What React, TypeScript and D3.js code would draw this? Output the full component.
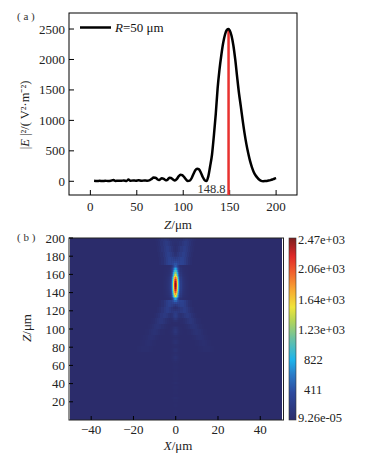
import React from 'react';
import * as d3 from 'd3';

// on-axis intensity |E|^2 along Z (um), R = 50 um
const axialZ = [4, 7, 10, 13, 16, 19, 22, 25, 27, 30, 33, 36, 39, 41, 43, 46, 49, 52, 55, 58, 61, 64, 66, 68, 70, 72, 74, 77, 79, 81, 83, 85, 87, 89, 91, 93, 95, 97, 99, 101, 103, 105, 107, 109, 111, 113, 115, 117, 119, 121, 123, 125, 127, 129, 131, 133, 135, 137, 139, 141, 143, 145, 147, 148.8, 150, 152, 154, 156, 158, 160, 162, 164, 166, 168, 170, 172, 174, 176, 178, 180, 182, 184, 186, 188, 190, 192, 194, 196, 198, 200];
const axialI = [8, 5, 8, 4, 9, 5, 10, 22, 6, 10, 8, 14, 6, 28, 8, 14, 10, 16, 8, 14, 10, 20, 40, 62, 60, 35, 22, 50, 40, 18, 25, 58, 55, 30, 15, 35, 80, 108, 100, 70, 30, 5, 10, 50, 120, 180, 205, 195, 140, 70, 20, 5, 80, 250, 440, 750, 1100, 1520, 1830, 2070, 2270, 2410, 2485, 2500, 2480, 2390, 2230, 2000, 1720, 1450, 1230, 1000, 790, 610, 460, 330, 230, 150, 95, 55, 25, 8, 2, 3, 6, 12, 20, 30, 42, 52];

const peakZ = 148.8;

const topXTicks = [0, 50, 100, 150, 200];
const topYTicks = [0, 500, 1000, 1500, 2000, 2500];

// transverse relative profile of the focal spot, |X| in um
const transX = [0, 0.5, 1, 1.5, 2, 2.5, 3, 3.5, 4, 4.5, 5, 5.5, 6];
const transRel = [1, 0.88, 0.62, 0.36, 0.18, 0.09, 0.05, 0.035, 0.025, 0.018, 0.012, 0.008, 0.004];

// faint side lobes (X-shaped fan) around the focus
const lobeZ = [200, 194, 188, 182, 176, 128, 122, 116, 110, 104, 98, 92, 86, 80];
const lobeX = [5, 4.5, 4, 3.5, 3, 3, 4, 5.5, 7, 8.5, 10, 11.5, 13, 14.5];
const lobeI = [130, 170, 200, 230, 260, 240, 200, 160, 120, 90, 70, 50, 35, 25];
const lobeDist = [0, 1, 2, 3, 4, 5];
const lobeRel = [1, 0.8, 0.5, 0.25, 0.1, 0];

const mapXTicks = [-40, -20, 0, 20, 40];
const mapYTicks = [20, 40, 60, 80, 100, 120, 140, 160, 180, 200];

const cbValues = [9.26e-5, 411, 822, 1230, 1640, 2060, 2470];
const cbLabels = ['9.26e-05', '411', '822', '1.23e+03', '1.64e+03', '2.06e+03', '2.47e+03'];

const cmapStops = [0, 0.15, 0.25, 0.33, 0.45, 0.55, 0.62, 0.72, 0.82, 0.9, 1];
const cmapColors = ['#2b2c6b', '#2d4a9e', '#2a7cc8', '#1cb4ec', '#6cc1a0', '#b8d654', '#f0e53a', '#f8a532', '#f05a2c', '#e02828', '#7b1e1e'];

const font = '"Liberation Serif", "Times New Roman", serif';

const nearest = (arr: number[], v: number) => {
  let best = 0;
  arr.forEach((a, i) => {
    if (Math.abs(a - v) < Math.abs(arr[best] - v)) best = i;
  });
  return best;
};

const App = () => {
  // panel (a)
  const a = { left: 69, right: 297, top: 13, bottom: 195 };
  const xA = d3.scaleLinear().domain([-23, 222.5]).range([a.left, a.right]);
  const yA = d3.scaleLinear().domain([-225, 2763]).range([a.bottom, a.top]);
  const line = d3
    .line<number>()
    .x((d, i) => xA(axialZ[i]))
    .y((d) => yA(d))
    .curve(d3.curveMonotoneX);

  // panel (b)
  const b = { left: 69, right: 283.5, top: 238, bottom: 420 };
  const xB = d3.scaleLinear().domain([-50.5, 51]).range([b.left, b.right]);
  const yB = d3.scaleLinear().domain([0, 200]).range([b.bottom, b.top]);
  const vmax = cbValues[cbValues.length - 1];
  const colorInterp = d3
    .scaleLinear<string>()
    .domain(cmapStops)
    .range(cmapColors)
    .interpolate(d3.interpolateRgb)
    .clamp(true);
  const color = (v: number) => colorInterp(v / vmax);

  const colsX = d3.range(-50, 50.01, 0.5);
  const cells: { x0: number; x1: number; z0: number; z1: number; v: number }[] = [];
  axialZ.forEach((z, i) => {
    const z0 = i === 0 ? 0 : (axialZ[i - 1] + z) / 2;
    const z1 = i === axialZ.length - 1 ? 200 : (axialZ[i + 1] + z) / 2;
    const li = nearest(lobeZ, z);
    const hasLobe = Math.abs(lobeZ[li] - z) <= 4;
    colsX.forEach((x) => {
      const ax = Math.abs(x);
      const t = ax <= transX[transX.length - 1] ? transRel[nearest(transX, ax)] : 0;
      let v = axialI[i] * t;
      if (hasLobe) {
        const d = Math.abs(ax - lobeX[li]);
        if (d <= lobeDist[lobeDist.length - 1]) v += lobeI[li] * lobeRel[nearest(lobeDist, d)];
      }
      cells.push({ x0: x - 0.25, x1: x + 0.25, z0, z1, v });
    });
  });

  const cb = { left: 289, right: 296, top: 238, bottom: 420 };
  const yCb = d3.scaleLinear().domain([cbValues[0], vmax]).range([cb.bottom, cb.top]);

  return (
    <svg
      width={368}
      height={455}
      style={{ position: 'absolute', left: 0, top: 0, background: '#fff' }}
      fontFamily={font}
    >
      <defs>
        <linearGradient id="cbar" x1="0" y1="1" x2="0" y2="0">
          {cmapStops.map((s, i) => (
            <stop key={i} offset={s} stopColor={cmapColors[i]} />
          ))}
        </linearGradient>
        <clipPath id="clipA">
          <rect x={a.left} y={a.top} width={a.right - a.left} height={a.bottom - a.top} />
        </clipPath>
      </defs>

      {/* ---------- (a) ---------- */}
      <text x={17} y={20} fontSize={11} fill="#333">( a )</text>
      <rect x={a.left} y={a.top} width={a.right - a.left} height={a.bottom - a.top} fill="none" stroke="#000" strokeWidth={1} />
      {topXTicks.map((t) => (
        <g key={t}>
          <line x1={xA(t)} x2={xA(t)} y1={a.bottom} y2={a.bottom - 5} stroke="#000" />
          <text x={xA(t)} y={211} fontSize={13} textAnchor="middle" fill="#222">{t}</text>
        </g>
      ))}
      {topYTicks.map((t) => (
        <g key={t}>
          <line x1={a.left} x2={a.left + 5} y1={yA(t)} y2={yA(t)} stroke="#000" />
          <text x={65} y={yA(t) + 4.5} fontSize={13} textAnchor="end" fill="#222">{t}</text>
        </g>
      ))}
      <g clipPath="url(#clipA)">
        <line x1={xA(peakZ)} x2={xA(peakZ)} y1={yA(axialI[axialZ.indexOf(peakZ)])} y2={a.bottom} stroke="#e8312f" strokeWidth={2.5} />
        <path d={line(axialI) || ''} fill="none" stroke="#000" strokeWidth={2.5} />
      </g>
      <text x={xA(peakZ) - 3} y={193} fontSize={12.5} textAnchor="end" fill="#333">{peakZ}</text>
      <line x1={80} x2={111} y1={27.5} y2={27.5} stroke="#000" strokeWidth={2.5} />
      <text x={115} y={32} fontSize={13} fill="#111">
        <tspan fontStyle="italic">R</tspan>=50 μm
      </text>
      <text x={178} y={229} fontSize={13} textAnchor="middle" fill="#222">
        <tspan fontStyle="italic">Z</tspan>/μm
      </text>
      <text transform="translate(29,115) rotate(-90)" fontSize={12.5} textAnchor="middle" fill="#222">
        |<tspan fontStyle="italic">E</tspan> |²/( V²·m⁻²)
      </text>

      {/* ---------- (b) ---------- */}
      <text x={17} y={241} fontSize={11} fill="#333">( b )</text>
      <g shapeRendering="crispEdges">
        {cells.map((c, i) => (
          <rect
            key={i}
            x={xB(c.x0)}
            y={yB(c.z1)}
            width={xB(c.x1) - xB(c.x0) + 0.3}
            height={yB(c.z0) - yB(c.z1) + 0.3}
            fill={color(c.v)}
          />
        ))}
      </g>
      <rect x={b.left} y={b.top} width={b.right - b.left} height={b.bottom - b.top} fill="none" stroke="#222" strokeWidth={1} />
      {mapXTicks.map((t) => (
        <g key={t}>
          <line x1={xB(t)} x2={xB(t)} y1={b.bottom} y2={b.bottom - 4} stroke="#000" />
          <text x={xB(t)} y={434} fontSize={13} textAnchor="middle" fill="#222">{t < 0 ? `−${-t}` : t}</text>
        </g>
      ))}
      {mapYTicks.map((t) => (
        <g key={t}>
          <line x1={b.left} x2={b.left + 4} y1={yB(t)} y2={yB(t)} stroke="#000" />
          <text x={65} y={yB(t) + 4.5} fontSize={13} textAnchor="end" fill="#222">{t}</text>
        </g>
      ))}
      <text x={178} y={450} fontSize={13} textAnchor="middle" fill="#222">
        <tspan fontStyle="italic">X</tspan>/μm
      </text>
      <text transform="translate(31,328) rotate(-90)" fontSize={13} textAnchor="middle" fill="#222">
        <tspan fontStyle="italic">Z</tspan>/μm
      </text>

      {/* colorbar */}
      <rect x={cb.left} y={cb.top} width={cb.right - cb.left} height={cb.bottom - cb.top} fill="url(#cbar)" stroke="#333" strokeWidth={0.6} />
      {cbValues.map((v, i) => {
        const short = cbLabels[i].length <= 3;
        const y = Math.min(Math.max(yCb(v), cb.top + 1), cb.bottom - 3);
        return (
          <text key={i} x={short ? 304 : 298} y={y + 4.5} fontSize={12.5} fill="#222">
            {cbLabels[i]}
          </text>
        );
      })}
    </svg>
  );
};

export default App;
